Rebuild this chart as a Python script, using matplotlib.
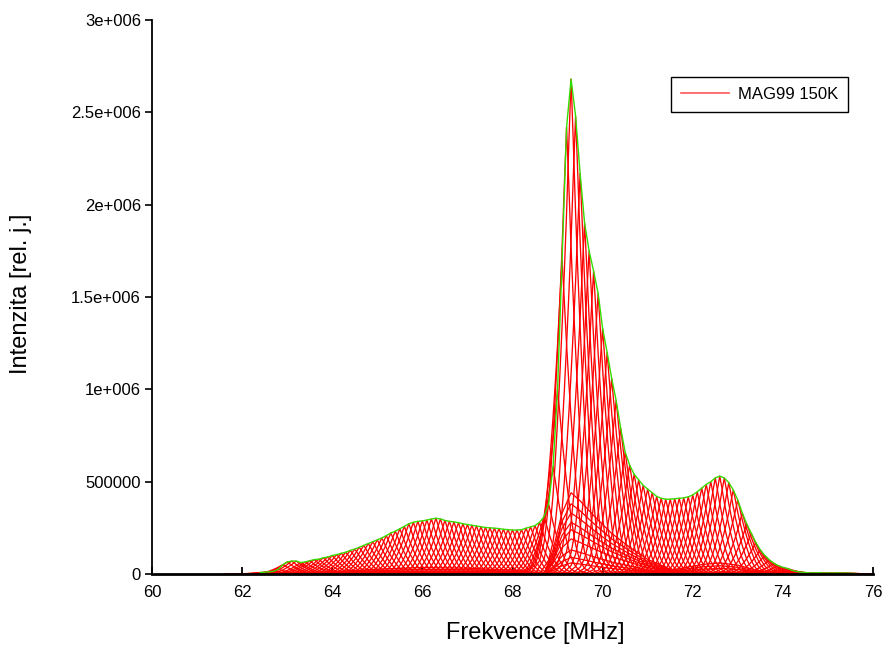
import matplotlib
matplotlib.use("Agg")
import matplotlib.pyplot as plt
import numpy as np

plt.rcParams['font.family'] = ['Liberation Sans', 'DejaVu Sans']

# --- data ---
centers = [round(62.4 + 0.1 * i, 1) for i in range(133)]  # 62.4 .. 75.6 MHz
amplitudes = [
    8e3, 10e3, 12e3, 15e3, 25e3, 50e3, 65e3, 70e3, 70e3, 62e3,          # 62.4-63.3
    65e3, 72e3, 78e3, 80e3, 88e3, 92e3, 100e3, 105e3, 112e3, 118e3,     # 63.4-64.3
    128e3, 135e3, 145e3, 155e3, 165e3, 175e3, 185e3, 195e3, 208e3, 222e3,  # 64.4-65.3
    232e3, 245e3, 258e3, 272e3, 280e3, 285e3, 288e3, 292e3, 298e3, 302e3,  # 65.4-66.3
    298e3, 290e3, 285e3, 282e3, 278e3, 272e3, 268e3, 264e3, 260e3, 256e3,  # 66.4-67.3
    252e3, 250e3, 248e3, 246e3, 242e3, 240e3, 238e3, 238e3, 240e3, 248e3,  # 67.4-68.3
    255e3, 262e3, 280e3, 310e3, 380e3, 580e3, 1000e3, 1700e3, 2420e3, 2680e3,  # 68.4-69.3
    2480e3, 2170e3, 1900e3, 1750e3, 1640e3, 1520e3, 1330e3, 1200e3, 1060e3, 940e3,  # 69.4-70.3
    790e3, 660e3, 590e3, 540e3, 510e3, 480e3, 460e3, 440e3, 420e3, 410e3,  # 70.4-71.3
    405e3, 405e3, 408e3, 410e3, 412e3, 418e3, 428e3, 445e3, 465e3, 485e3,  # 71.4-72.3
    500e3, 520e3, 530e3, 520e3, 495e3, 455e3, 400e3, 330e3, 270e3, 220e3,  # 72.4-73.3
    170e3, 130e3, 100e3, 76e3, 58e3, 45e3, 36e3, 30e3, 20e3, 14e3,         # 73.4-74.3
    10e3, 8e3, 6e3, 6e3, 7e3, 5e3, 6e3, 5e3, 6e3, 5e3,                     # 74.4-75.3
    5e3, 4e3, 3e3,                                                           # 75.4-75.6
]

# single-spectrum line shape (offset in MHz, relative intensity)
shape_offset = [-0.8, -0.6, -0.5, -0.45, -0.4, -0.35, -0.3, -0.25, -0.2, -0.15, -0.1, -0.05, 0.0,
                0.05, 0.1, 0.15, 0.2, 0.25, 0.3, 0.35, 0.4, 0.45, 0.5, 0.6, 0.8]
shape_rel = [0.0, 0.03, 0.07, 0.11, 0.16, 0.23, 0.31, 0.4, 0.5, 0.61, 0.73, 0.87, 1.0,
             0.87, 0.73, 0.61, 0.5, 0.4, 0.31, 0.23, 0.16, 0.11, 0.07, 0.03, 0.0]

# broad low spectra near the main line
broad_freq = [68.7, 68.9, 69.1, 69.3, 69.5, 69.8, 70.2, 70.6, 71.0, 71.5, 72.0]
broad_rel = [0.0, 0.3, 0.75, 1.0, 0.9, 0.72, 0.5, 0.33, 0.18, 0.06, 0.0]
broad_heights = [440e3, 380e3, 330e3, 280e3, 240e3, 190e3, 130e3, 90e3, 60e3]

# broad low spectra near the 72.6 MHz shoulder
broad2_freq = [71.0, 71.6, 72.2, 72.6, 73.0, 73.4, 73.9]
broad2_rel = [0.0, 0.4, 0.85, 1.0, 0.8, 0.35, 0.0]
broad2_heights = [60e3, 45e3, 30e3]

# broad low spectra under the 66 MHz hump
broad3_freq = [63.0, 64.0, 65.0, 66.0, 67.0, 68.0, 68.8]
broad3_rel = [0.0, 0.35, 0.75, 1.0, 0.9, 0.6, 0.0]
broad3_heights = [35e3, 25e3, 16e3, 9e3]

xticks = [60, 62, 64, 66, 68, 70, 72, 74, 76]
yticks = [0, 0.5e6, 1e6, 1.5e6, 2e6, 2.5e6, 3e6]
ytick_labels = ['0', '500000', '1e+006', '1.5e+006', '2e+006', '2.5e+006', '3e+006']

# --- figure ---
fig = plt.figure(figsize=(8.85, 6.46), dpi=100)
ax = fig.add_axes([152 / 885, 1 - 574 / 646, 721 / 885, 554 / 646])

red = '#ff0000'
for c, a in zip(centers, amplitudes):
    ax.plot(np.add(c, shape_offset), np.multiply(a, shape_rel), color=red, lw=0.95)
for fr, rel, hs in [(broad_freq, broad_rel, broad_heights),
                    (broad2_freq, broad2_rel, broad2_heights),
                    (broad3_freq, broad3_rel, broad3_heights)]:
    for h in hs:
        ax.plot(fr, np.multiply(h, rel), color=red, lw=0.9)

ax.plot(centers, amplitudes, color='#33dd00', lw=1.0)

# legend proxy
ax.plot([], [], color='#ff5555', lw=1.2, label='MAG99 150K')
leg = ax.legend(loc='upper right', bbox_to_anchor=(0.965, 0.897), fontsize=12,
                frameon=True, fancybox=False, edgecolor='black', framealpha=1,
                handlelength=2.9, borderpad=0.6, handletextpad=0.5, borderaxespad=0)
leg.get_frame().set_linewidth(1.0)

ax.set_xlim(60, 76)
ax.set_ylim(0, 3e6)
ax.set_xticks(xticks)
ax.set_xticklabels([str(t) for t in xticks])
ax.set_yticks(yticks)
ax.set_yticklabels(ytick_labels)

for s in ['top', 'right']:
    ax.spines[s].set_visible(False)
ax.spines['bottom'].set_linewidth(2.0)
ax.spines['left'].set_linewidth(1.3)
ax.tick_params(axis='x', direction='in', length=5, width=1.3, labelsize=12, pad=8)
ax.tick_params(axis='y', direction='out', length=5, width=1.2, labelsize=12, pad=3)

ax.set_xlabel('Frekvence [MHz]', fontsize=17)
ax.set_ylabel('Intenzita [rel. j.]', fontsize=17)
ax.xaxis.set_label_coords((535 - 152) / 721, (574 - 622) / 554)
ax.yaxis.set_label_coords((32 - 152) / 721, (574 - 294) / 554)

fig.savefig('out.png', dpi=100)
